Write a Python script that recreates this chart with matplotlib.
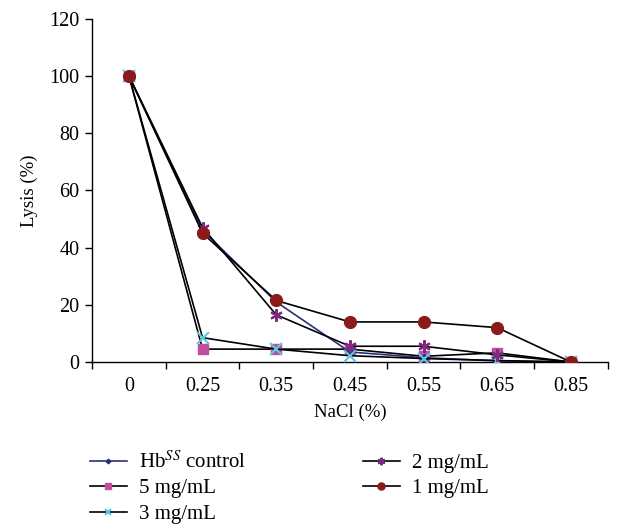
import matplotlib
matplotlib.use("Agg")
import matplotlib.pyplot as plt
import numpy as np

plt.rcParams['font.family'] = ['Liberation Serif', 'DejaVu Serif']
plt.rcParams['mathtext.fontset'] = 'stix'

# NaCl concentrations (categorical x axis)
nacl = ["0", "0.25", "0.35", "0.45", "0.55", "0.65", "0.85"]

# Lysis (%) per treatment
hbss_control = [100, 46, 21, 3.5, 1.5, 0.4, 0]
mg5 = [100, 4.5, 4.5, 4.5, 2, 3.2, 0]
mg3 = [100, 8.5, 4.5, 2.2, 1.2, 0.5, 0]
mg2 = [100, 47, 16.5, 5.5, 5.5, 2.5, 0]
mg1 = [100, 45, 21.5, 14, 14, 12, 0]

x = np.arange(len(nacl))

fig = plt.figure(figsize=(6.22, 5.25), dpi=100)
ax = fig.add_axes([0.148, 0.3105, 0.829, 0.654])

ax.plot(x, hbss_control, color='#2B2F7F', lw=1.2, marker='D', ms=4,
        mfc='#2B2F7F', mec='#2B2F7F', label=r'Hb$^{SS}$ control', zorder=3)
ax.plot(x, mg5, color='black', lw=1.2, marker='s', ms=7.5,
        mfc='#C0509F', mec='#C0509F', label='5 mg/mL', zorder=2)
ax.plot(x, mg3, color='black', lw=1.2, marker='x', ms=8, mew=1.5,
        mec='#5CC8DD', label='3 mg/mL', zorder=4)
ax.plot(x, mg2, color='black', lw=1.2, marker=(6, 2, 0), ms=9, mew=1.5,
        mec='#7E2A7F', label='2 mg/mL', zorder=5)
ax.plot(x, mg1, color='black', lw=1.2, marker='o', ms=8.5,
        mfc='#8B1A1A', mec='#8B1A1A', label='1 mg/mL', zorder=6)

ax.set_xlim(-0.5, len(nacl) - 0.5)
ax.set_ylim(0, 120)
ax.set_yticks(np.arange(0, 121, 20))
ax.set_xticks(x)
ax.set_xticklabels(nacl)
ax.set_xticks(np.arange(-0.5, len(nacl), 1), minor=True)
ax.tick_params(axis='x', which='major', length=0, pad=11, labelsize=14.5)
ax.tick_params(axis='x', which='minor', length=5, direction='out', width=1)
ax.tick_params(axis='y', length=5, direction='out', width=1, labelsize=14.5, pad=4)

for s in ['top', 'right']:
    ax.spines[s].set_visible(False)
for s in ['left', 'bottom']:
    ax.spines[s].set_linewidth(1)

ax.set_xlabel('NaCl (%)', fontsize=13.5, labelpad=5)
ax.set_ylabel('Lysis (%)', fontsize=13.5, labelpad=8)

fig.legend(loc='upper left', bbox_to_anchor=(0.145, 0.141), ncol=2,
           frameon=False, fontsize=15, handlelength=1.75, columnspacing=5.6,
           labelspacing=0.28, handletextpad=0.6, markerscale=0.6,
           borderpad=0, borderaxespad=0)

fig.savefig('out.png', dpi=100)
